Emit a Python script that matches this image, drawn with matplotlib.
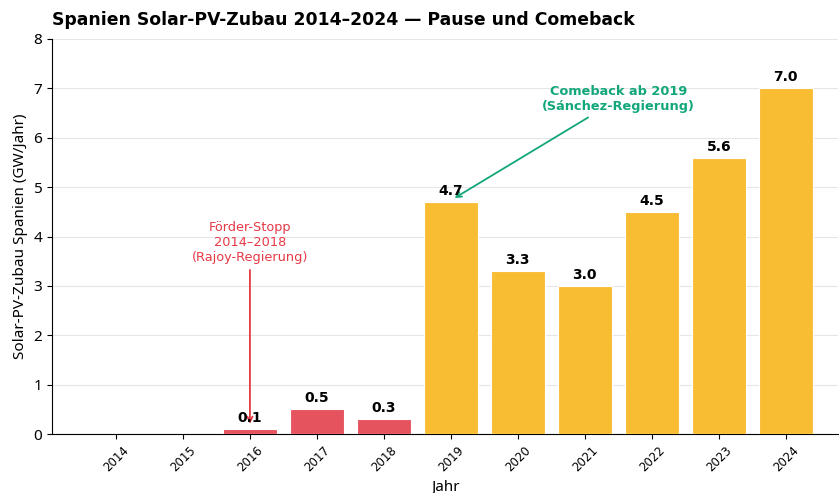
import matplotlib.pyplot as plt
import numpy as np

years = ['2014', '2015', '2016', '2017', '2018', '2019', '2020', '2021', '2022', '2023', '2024']
zubau_gw = [0.0, 0.0, 0.1, 0.5, 0.3, 4.7, 3.3, 3.0, 4.5, 5.6, 7.0]
phase = ['stopp'] * 5 + ['comeback'] * 6

RED = '#E5535F'
ANNOT_RED = '#E63946'
YELLOW = '#F8BD33'
GREEN = '#12A67B'
LABEL_FONT = ['Noto Sans', 'DejaVu Sans']

fig = plt.figure(figsize=(8.39, 4.93), dpi=100)
ax = fig.add_axes([52 / 839, 59 / 493, 786 / 839, 395 / 493])

x = np.arange(len(years))
colors = [RED if p == 'stopp' else YELLOW for p in phase]
ax.bar(x, zubau_gw, width=0.8, color=colors, edgecolor='white', linewidth=0.8, zorder=3)

# value labels only for years with additions
for xi, v in zip(x, zubau_gw):
    if v > 0:
        ax.text(xi, v + 0.08, f'{v:.1f}', ha='center', va='bottom',
                fontsize=10, fontweight='bold', zorder=4)

ax.set_xlim(-0.955, 10.78)
ax.set_ylim(0, 8)
ax.set_xticks(x)
ax.set_xticklabels(years, rotation=45, fontsize=8.5)
for lbl in ax.get_yticklabels():
    lbl.set_fontfamily(LABEL_FONT)
ax.tick_params(axis='y', labelsize=11)
ax.set_xlabel('Jahr', fontsize=11, family=LABEL_FONT)
ax.set_ylabel('Solar-PV-Zubau Spanien (GW/Jahr)', fontsize=11, family=LABEL_FONT)

ax.grid(axis='y', color='#e6e6e6', linewidth=0.8, zorder=0)
ax.spines['top'].set_visible(False)
ax.spines['right'].set_visible(False)

ax.set_title('Spanien Solar-PV-Zubau 2014\u20132024 \u2014 Pause und Comeback',
             loc='left', fontsize=12.4, fontweight='bold', pad=10)

# annotations
ax.annotate('F\u00f6rder-Stopp\n2014\u20132018\n(Rajoy-Regierung)',
            xy=(2, 0.15), xytext=(2, 3.87), ha='center', va='center',
            fontsize=9.3, color=ANNOT_RED,
            arrowprops=dict(arrowstyle='->', color=ANNOT_RED, lw=1.3))
ax.annotate('Comeback ab 2019\n(S\u00e1nchez-Regierung)',
            xy=(5.02, 4.75), xytext=(7.5, 6.78), ha='center', va='center',
            fontsize=9.3, fontweight='bold', color=GREEN,
            arrowprops=dict(arrowstyle='->', color=GREEN, lw=1.3))

fig.savefig('out.png', dpi=100)
